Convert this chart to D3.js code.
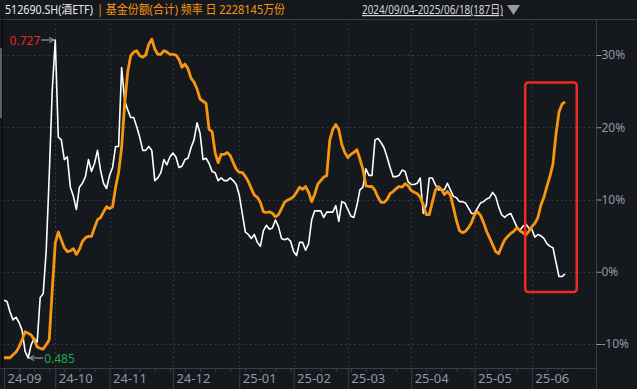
<!DOCTYPE html>
<html>
<head>
<meta charset="utf-8">
<script src="https://cdn.jsdelivr.net/npm/d3@7"></script>
<style>
  body { margin: 0; background: #15181d; }
  svg { display: block; }
  text { font-family: "Noto Sans", "Noto Sans CJK SC", sans-serif; }
</style>
</head>
<body>
<div id="chart"></div>
<script>
// month tick labels and the trading-day index where each month starts (187 days total)
const monthLabels = ["24-09", "24-10", "24-11", "24-12", "25-01", "25-02", "25-03", "25-04", "25-05", "25-06"];
const monthStart = [0, 17, 35, 56, 78, 96, 114, 135, 156, 175];
const pctTicks = [-10, 0, 10, 20, 30];

// 基金份额(合计) change, % (orange, right axis)
const shareChg = [
  -11.9, -11.9, -11.9, -11.5, -11.1, -10.4, -9.4, -8.3, -8.5, -8.75,
  -9.4, -10.4, -10.6, -10.7, -10.1, -9.4, -2.5, 4.0, 5.5, 4.4,
  3.3, 2.8, 2.9, 3.2, 2.4, 3.1, 4.2, 4.7, 4.9, 4.9,
  6.1, 7.2, 7.5, 8.3, 9.0, 8.75, 9.0, 11.7, 13.75, 17.2,
  23.2, 27.6, 29.9, 30.4, 30.6, 29.9, 29.7, 30.0, 31.5, 32.2,
  30.8, 30.1, 30.1, 30.6, 30.4, 30.1, 30.1, 30.0, 29.4, 28.3,
  28.75, 28.1, 26.8, 26.25, 25.3, 23.9, 23.6, 23.3, 19.7, 19.4,
  16.5, 15.1, 16.25, 16.25, 16.5, 16.1, 15.1, 14.2, 13.75, 13.75,
  13.2, 12.5, 11.5, 10.6, 10.3, 9.6, 8.3, 8.2, 8.3, 8.1,
  7.6, 7.9, 8.75, 9.6, 9.9, 10.1, 10.4, 11.0, 11.7, 11.4,
  11.8, 11.0, 9.7, 10.7, 12.1, 12.6, 13.1, 13.3, 18.2, 19.7,
  20.4, 19.7, 17.6, 16.5, 15.8, 16.25, 16.5, 16.9, 15.6, 14.2,
  11.9, 11.8, 11.8, 11.25, 10.3, 9.6, 9.6, 10.0, 10.8, 11.1,
  11.5, 11.8, 11.7, 12.2, 11.9, 11.25, 11.0, 10.8, 10.3, 9.3,
  7.9, 7.9, 9.6, 11.25, 11.8, 11.4, 10.7, 11.1, 10.6, 8.9,
  7.1, 5.7, 5.4, 5.6, 6.1, 6.8, 7.9, 8.3, 7.8, 6.8,
  5.6, 4.7, 3.75, 2.8, 2.5, 3.5, 4.4, 4.9, 5.3, 5.6,
  6.1, 5.7, 5.4, 5.1, 5.6, 6.25, 6.7, 7.5, 9.2, 10.3,
  11.8, 13.2, 14.9, 19.0, 22.1, 23.2, 23.5
];

// ETF close price (white line)
const price = [
  0.529, 0.528, 0.520, 0.514, 0.516, 0.512, 0.506, 0.490, 0.485, 0.495,
  0.500, 0.497, 0.531, 0.534, 0.567, 0.624, 0.689, 0.727, 0.653, 0.651,
  0.636, 0.638, 0.615, 0.608, 0.598, 0.615, 0.618, 0.623, 0.636, 0.627,
  0.633, 0.643, 0.628, 0.618, 0.614, 0.624, 0.630, 0.646, 0.646, 0.706,
  0.681, 0.674, 0.668, 0.668, 0.661, 0.653, 0.643, 0.643, 0.646, 0.643,
  0.620, 0.622, 0.626, 0.636, 0.632, 0.638, 0.641, 0.638, 0.630, 0.631,
  0.636, 0.637, 0.645, 0.651, 0.664, 0.656, 0.636, 0.637, 0.633, 0.627,
  0.626, 0.620, 0.622, 0.620, 0.620, 0.622, 0.620, 0.617, 0.609, 0.595,
  0.581, 0.579, 0.576, 0.579, 0.573, 0.570, 0.582, 0.586, 0.583, 0.584,
  0.590, 0.585, 0.576, 0.575, 0.576, 0.574, 0.566, 0.563, 0.573, 0.573,
  0.567, 0.572, 0.590, 0.597, 0.597, 0.597, 0.592, 0.596, 0.596, 0.596,
  0.601, 0.589, 0.604, 0.603, 0.598, 0.593, 0.592, 0.601, 0.613, 0.615,
  0.629, 0.624, 0.624, 0.651, 0.652, 0.649, 0.645, 0.638, 0.630, 0.623,
  0.623, 0.624, 0.628, 0.627, 0.619, 0.617, 0.617, 0.618, 0.622, 0.595,
  0.601, 0.622, 0.622, 0.617, 0.613, 0.613, 0.613, 0.618, 0.613, 0.608,
  0.607, 0.604, 0.604, 0.603, 0.599, 0.595, 0.595, 0.599, 0.603, 0.604,
  0.606, 0.607, 0.611, 0.608, 0.600, 0.594, 0.592, 0.594, 0.595, 0.590,
  0.585, 0.582, 0.585, 0.587, 0.584, 0.583, 0.577, 0.579, 0.578, 0.576,
  0.572, 0.570, 0.569, 0.558, 0.547, 0.547, 0.549
];

const W = 637, H = 389;
const plotLeft = 3, plotRight = 596, plotTop = 19, axisY = 368;
const gridCol = "#3a3f47", labelCol = "#8f99a8";

const svg = d3.select("#chart").append("svg")
    .attr("width", W)
    .attr("height", H);

svg.append("rect").attr("width", W).attr("height", H).attr("fill", "#15181d");

// scales
const x = d3.scaleLinear().domain([0, price.length - 1]).range([4, 565]);
const y = d3.scaleLinear().domain([-10, 30]).range([344, 55]);
const yPrice = d3.scaleLinear().domain([d3.min(price), d3.max(price)]).range([358, 40]);

// frame lines
svg.append("line").attr("x1", 0).attr("x2", W).attr("y1", plotTop + 0.5).attr("y2", plotTop + 0.5)
    .attr("stroke", gridCol);
svg.append("line").attr("x1", 0).attr("x2", plotRight).attr("y1", axisY + 0.5).attr("y2", axisY + 0.5)
    .attr("stroke", gridCol);
svg.append("line").attr("x1", 2.5).attr("x2", 2.5).attr("y1", plotTop).attr("y2", axisY)
    .attr("stroke", "#050607");
svg.append("rect").attr("x", 0).attr("y", 48).attr("width", 2).attr("height", 70).attr("fill", "#5b6068");

// horizontal dotted grid
svg.append("g").selectAll("line").data(pctTicks).join("line")
    .attr("x1", plotLeft).attr("x2", plotRight)
    .attr("y1", d => Math.round(y(d)) + 0.5).attr("y2", d => Math.round(y(d)) + 0.5)
    .attr("stroke", gridCol).attr("stroke-dasharray", "1.5,3");

// vertical dotted grid at month starts
svg.append("g").selectAll("line").data(monthStart.slice(1)).join("line")
    .attr("x1", d => Math.round(x(d)) + 0.5).attr("x2", d => Math.round(x(d)) + 0.5)
    .attr("y1", plotTop).attr("y2", axisY)
    .attr("stroke", gridCol).attr("stroke-dasharray", "1.5,3");

// right axis
const yAxis = svg.append("g")
    .attr("transform", "translate(" + (plotRight + 0.5) + ",0)")
    .call(d3.axisRight(y).tickValues(pctTicks).tickFormat(d => d + "%").tickSize(5).tickPadding(0));
yAxis.select(".domain").attr("stroke", gridCol).attr("d", "M0," + plotTop + "V" + H);
yAxis.selectAll(".tick line").attr("stroke", labelCol);
yAxis.selectAll(".tick text").attr("fill", labelCol).attr("font-size", 12)
    .attr("font-family", "Noto Sans, sans-serif");

// bottom axis: minor weekly ticks, then month ticks with labels
const minor = d3.range(0, price.length, 5).filter(d => !monthStart.includes(d));
const xMinor = svg.append("g")
    .attr("transform", "translate(0," + axisY + ")")
    .call(d3.axisBottom(x).tickValues(minor).tickSize(4).tickFormat(""));
xMinor.select(".domain").remove();
xMinor.selectAll(".tick line").attr("stroke", gridCol);

const xAxis = svg.append("g")
    .attr("transform", "translate(0," + axisY + ")")
    .call(d3.axisBottom(x).tickValues(monthStart).tickSize(H - axisY)
        .tickFormat((d, i) => monthLabels[i]));
xAxis.select(".domain").remove();
xAxis.selectAll(".tick line").attr("stroke", gridCol);
xAxis.selectAll(".tick text")
    .attr("fill", labelCol).attr("font-size", 13)
    .attr("text-anchor", "start").attr("x", 3).attr("y", 6);

// lines
const linePrice = d3.line().x((d, i) => x(i)).y(d => yPrice(d));
const lineShare = d3.line().x((d, i) => x(i)).y(d => y(d));

svg.append("path").datum(price)
    .attr("d", linePrice)
    .attr("fill", "none").attr("stroke", "#ffffff").attr("stroke-width", 1.6)
    .attr("stroke-linejoin", "round");

svg.append("path").datum(shareChg)
    .attr("d", lineShare)
    .attr("fill", "none").attr("stroke", "#f7960f").attr("stroke-width", 2.8)
    .attr("stroke-linejoin", "round");

// max / min annotations
const iMax = d3.maxIndex(price), iMin = d3.minIndex(price);
svg.append("defs").append("marker")
    .attr("id", "arr").attr("viewBox", "0 0 8 8").attr("refX", 7).attr("refY", 4)
    .attr("markerWidth", 7).attr("markerHeight", 7).attr("orient", "auto")
    .append("path").attr("d", "M1,1L7,4L1,7").attr("fill", "none").attr("stroke", "#b5b5b5");

const pMax = [x(iMax) - 1, yPrice(price[iMax])];
svg.append("line").attr("x1", pMax[0] - 13).attr("x2", pMax[0]).attr("y1", pMax[1]).attr("y2", pMax[1])
    .attr("stroke", "#b5b5b5").attr("marker-end", "url(#arr)");
svg.append("text").attr("x", pMax[0] - 14).attr("y", pMax[1] + 4.5)
    .attr("text-anchor", "end").attr("font-size", 12).attr("fill", "#e8262d")
    .text(price[iMax].toFixed(3));

const pMin = [x(iMin) + 1, yPrice(price[iMin])];
svg.append("line").attr("x1", pMin[0] + 14).attr("x2", pMin[0]).attr("y1", pMin[1]).attr("y2", pMin[1])
    .attr("stroke", "#b5b5b5").attr("marker-end", "url(#arr)");
svg.append("text").attr("x", pMin[0] + 15).attr("y", pMin[1] + 4.5)
    .attr("font-size", 12).attr("fill", "#1fa84f")
    .text(price[iMin].toFixed(3));

// red highlight box around the last weeks
svg.append("rect")
    .attr("x", x(172.8)).attr("y", y(26.2))
    .attr("width", x(189.9) - x(172.8)).attr("height", y(-2.8) - y(26.2))
    .attr("rx", 3)
    .attr("fill", "none").attr("stroke", "#ee2a22").attr("stroke-width", 2.5);

// header
const head = svg.append("g").attr("font-family", "Noto Sans CJK SC, sans-serif").attr("font-size", 12);
head.append("text").attr("x", 5).attr("y", 14).attr("fill", "#e8e8e8")
    .attr("textLength", 88).attr("lengthAdjust", "spacingAndGlyphs")
    .text("512690.SH(酒ETF)");
head.append("text").attr("x", 97).attr("y", 14).attr("fill", "#f7960f")
    .attr("textLength", 188).attr("lengthAdjust", "spacingAndGlyphs")
    .text("| 基金份额(合计) 频率 日 2228145万份");
head.append("text").attr("x", 362).attr("y", 14).attr("fill", "#d6d6d6")
    .attr("textLength", 141).attr("lengthAdjust", "spacingAndGlyphs")
    .attr("text-decoration", "underline")
    .text("2024/09/04-2025/06/18(187日)");
svg.append("path").attr("d", "M507,5L520,5L513.5,15Z").attr("fill", "#9a9a9a");
</script>
</body>
</html>
